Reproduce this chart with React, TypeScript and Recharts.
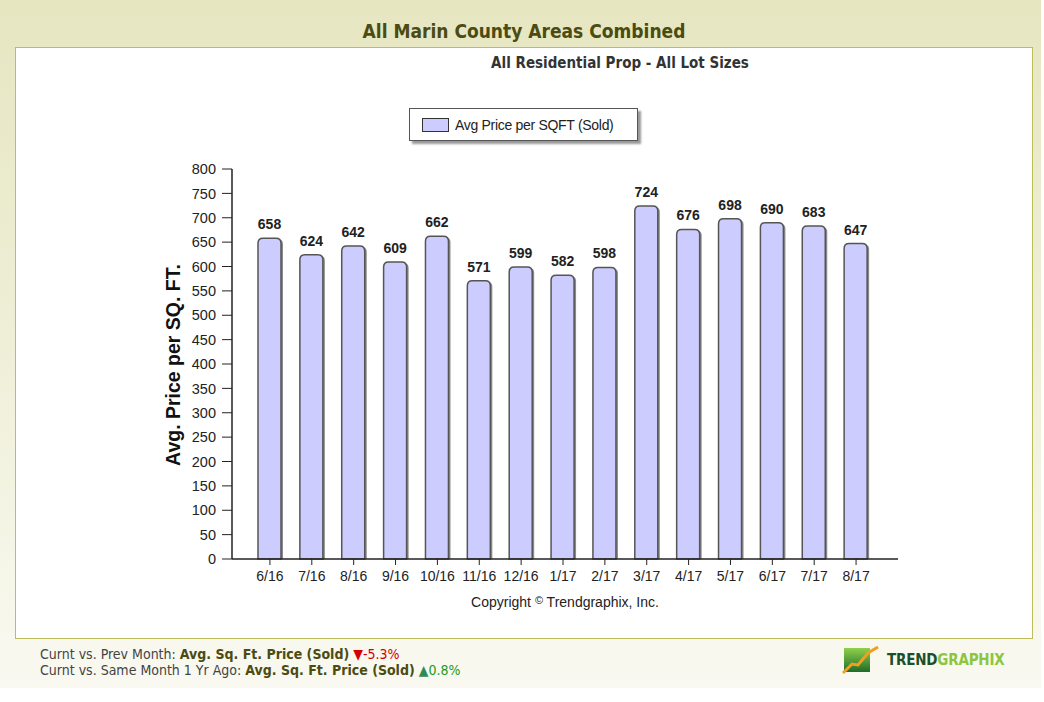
import { BarChart, Bar, XAxis, YAxis, LabelList, Label } from 'recharts'

const MONTHS = ['6/16', '7/16', '8/16', '9/16', '10/16', '11/16', '12/16', '1/17', '2/17', '3/17', '4/17', '5/17', '6/17', '7/17', '8/17']
const PRICE_PER_SQFT = [658, 624, 642, 609, 662, 571, 599, 582, 598, 724, 676, 698, 690, 683, 647]
const Y_TICKS = [0, 50, 100, 150, 200, 250, 300, 350, 400, 450, 500, 550, 600, 650, 700, 750, 800]

const SERIES_NAME = 'Avg Price per SQFT (Sold)'
const BAR_FILL = '#ccccff'
const OLIVE = '#4b4b12'
const CONDENSED = '"DejaVu Sans Condensed", "DejaVu Sans", Verdana, sans-serif'
const ARIAL = '"Liberation Sans", Arial, sans-serif'

const data = MONTHS.map((m, i) => ({ month: m, price: PRICE_PER_SQFT[i] }))

function roundedTop(x: number, y: number, w: number, h: number, r: number): string {
  const rr = Math.min(r, w / 2, h)
  return `M${x},${y + h} L${x},${y + rr} Q${x},${y} ${x + rr},${y} L${x + w - rr},${y} Q${x + w},${y} ${x + w},${y + rr} L${x + w},${y + h} Z`
}

function ShadowBar(props: any) {
  const { x, y, width, height } = props
  if (!height || height <= 0) return null
  return (
    <g>
      <path d={roundedTop(x + 2, y + 1, width, height - 1, 5)} fill="#8a8a8a" />
      <path d={roundedTop(x, y, width, height, 5)} fill={BAR_FILL} stroke="#555" strokeWidth={1.5} />
    </g>
  )
}

function LegendBox() {
  return (
    <div
      style={{
        position: 'absolute',
        left: 409,
        top: 108,
        width: 227,
        height: 31,
        border: '1px solid #555',
        background: '#fff',
        boxShadow: '3px 3px 2px #999',
        display: 'flex',
        alignItems: 'center',
        fontFamily: ARIAL,
        fontSize: 14,
        color: '#222',
      }}
    >
      <span
        style={{
          display: 'inline-block',
          width: 25,
          height: 12,
          marginLeft: 12,
          marginRight: 6,
          background: BAR_FILL,
          border: '1px solid #333',
        }}
      />
      <span style={{ letterSpacing: -0.3 }}>{SERIES_NAME}</span>
    </div>
  )
}

function YTitle(props: any) {
  const vb = props.viewBox
  const cx = vb.x + 1
  const cy = vb.y + vb.height / 2 + 1
  return (
    <text
      x={cx}
      y={cy}
      transform={`rotate(-90, ${cx}, ${cy})`}
      textAnchor="middle"
      dominantBaseline="central"
      fontFamily={ARIAL}
      fontWeight="bold"
      fontSize={19.5}
      fill="#111"
    >
      Avg. Price per SQ. FT.
    </text>
  )
}

function Logo() {
  return (
    <div style={{ position: 'absolute', left: 842, top: 645, display: 'flex', alignItems: 'center' }}>
      <svg width={40} height={30}>
        <defs>
          <linearGradient id="lg" x1="0" y1="0" x2="0" y2="1">
            <stop offset="0%" stopColor="#8fd14a" />
            <stop offset="100%" stopColor="#1f6b2a" />
          </linearGradient>
        </defs>
        <rect x={2} y={3} width={26} height={24} fill="url(#lg)" />
        <polyline points="1,28 10,19 16,20 26,8 36,2" fill="none" stroke="#f0a020" strokeWidth={3} />
      </svg>
      <span style={{ fontFamily: CONDENSED, fontWeight: 'bold', fontSize: 15, marginLeft: 5, letterSpacing: -0.2 }}>
        <span style={{ color: '#1c4f2a' }}>TREND</span>
        <span style={{ color: '#8cc63f' }}>GRAPHIX</span>
      </span>
    </div>
  )
}

export default function App() {
  return (
    <div
      style={{
        position: 'absolute',
        left: 0,
        top: 0,
        width: 1044,
        height: 702,
        background: '#fff',
        overflow: 'hidden',
      }}
    >
      <div
        style={{
          position: 'absolute',
          left: 0,
          top: 0,
          width: 1041,
          height: 688,
          background: 'linear-gradient(#e6e6c1 0%, #eeeed6 45%, #f9f9f1 100%)',
        }}
      />
      <div
        style={{
          position: 'absolute',
          left: 0,
          top: 20,
          width: 1048,
          textAlign: 'center',
          fontFamily: CONDENSED,
          fontWeight: 'bold',
          fontSize: 19,
          color: OLIVE,
        }}
      >
        All Marin County Areas Combined
      </div>
      <div
        style={{
          position: 'absolute',
          left: 15,
          top: 47,
          width: 1016,
          height: 590,
          background: '#fff',
          border: '1px solid #bdbd5c',
        }}
      />
      <div
        style={{
          position: 'absolute',
          left: 470,
          top: 54,
          width: 300,
          textAlign: 'center',
          fontFamily: CONDENSED,
          fontWeight: 'bold',
          fontSize: 15,
          color: '#333',
        }}
      >
        All Residential Prop - All Lot Sizes
      </div>

      <LegendBox />

      <div style={{ position: 'absolute', left: 0, top: 0 }}>
        <BarChart
          width={1044}
          height={702}
          data={data}
          margin={{ top: 169, right: 146, bottom: 113, left: 172 }}
        >
          <XAxis
            dataKey="month"
            height={30}
            padding={{ left: 17, right: 21 }}
            axisLine={{ stroke: '#222', strokeWidth: 1.5 }}
            tickLine={{ stroke: '#222' }}
            tickSize={6}
            tick={{ fontFamily: ARIAL, fontSize: 14, fill: '#222' }}
            tickMargin={6}
            interval={0}
          />
          <YAxis
            width={60}
            domain={[0, 800]}
            ticks={Y_TICKS}
            interval={0}
            axisLine={{ stroke: '#222', strokeWidth: 1.5 }}
            tickLine={{ stroke: '#222' }}
            tickSize={10}
            tickMargin={6}
            tick={{ fontFamily: ARIAL, fontSize: 14.5, fill: '#222' }}
          >
            <Label content={YTitle} />
          </YAxis>
          <Bar
            dataKey="price"
            name={SERIES_NAME}
            barSize={23}
            shape={ShadowBar}
            isAnimationActive={false}
          >
            <LabelList
              dataKey="price"
              position="top"
              offset={9}
              style={{ fontFamily: ARIAL, fontSize: 14, fontWeight: 'bold', fill: '#222' }}
            />
          </Bar>
        </BarChart>
      </div>

      <div
        style={{
          position: 'absolute',
          left: 365,
          top: 594,
          width: 400,
          textAlign: 'center',
          fontFamily: ARIAL,
          fontSize: 14,
          color: '#222',
        }}
      >
        Copyright <span style={{ fontSize: 11, verticalAlign: 'top' }}>©</span> Trendgraphix, Inc.
      </div>

      <div
        style={{
          position: 'absolute',
          left: 40,
          top: 646,
          fontFamily: CONDENSED,
          fontSize: 14,
          color: '#444',
          lineHeight: '16px',
        }}
      >
        <div>
          Curnt vs. Prev Month: <b style={{ color: OLIVE }}>Avg. Sq. Ft. Price (Sold)</b>{' '}
          <span style={{ color: '#d40000' }}>▼-5.3%</span>
        </div>
        <div>
          Curnt vs. Same Month 1 Yr Ago: <b style={{ color: OLIVE }}>Avg. Sq. Ft. Price (Sold)</b>{' '}
          <span style={{ color: '#1a9a1a' }}>
            <span style={{ color: '#2e8b57' }}>▲</span>0.8%
          </span>
        </div>
      </div>

      <Logo />
    </div>
  )
}
